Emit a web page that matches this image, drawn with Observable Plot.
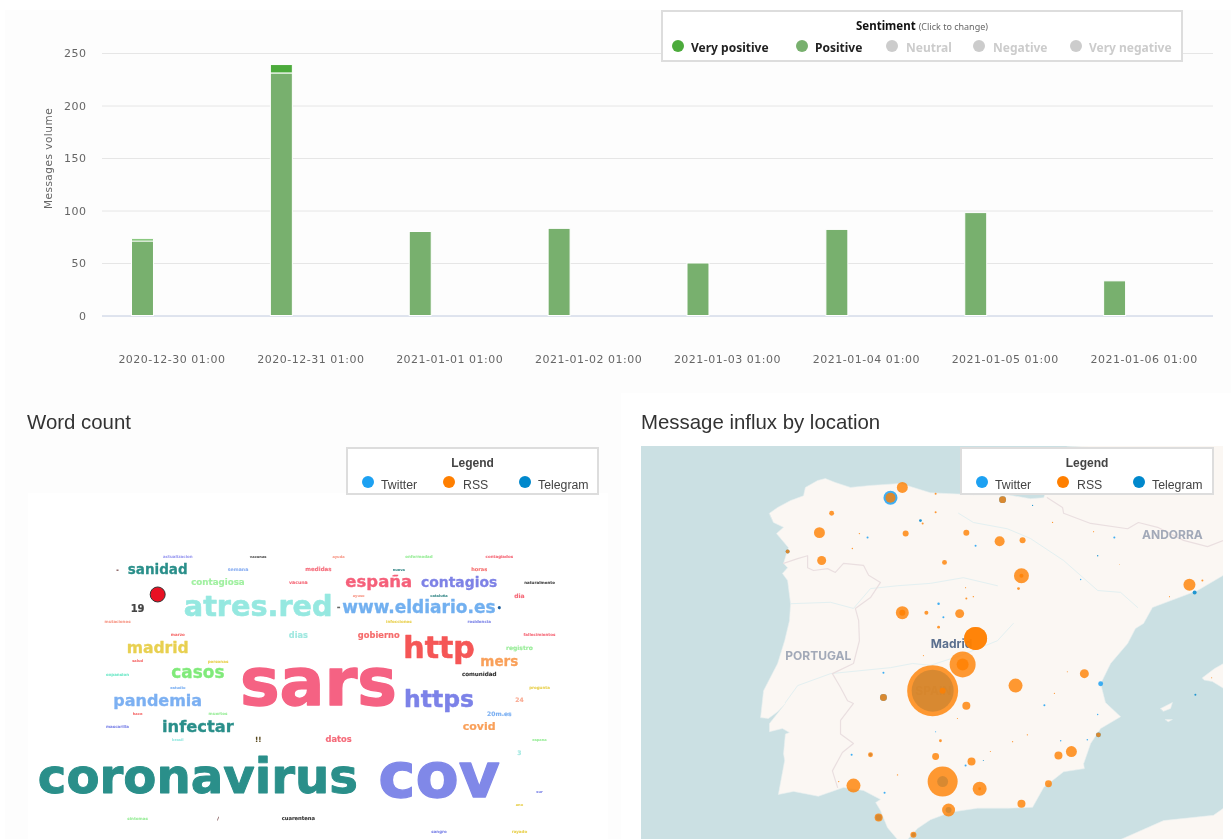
<!DOCTYPE html>
<html><head><meta charset="utf-8">
<script src="https://cdn.jsdelivr.net/npm/d3@7"></script>
<script src="https://cdn.jsdelivr.net/npm/@observablehq/plot@0.6"></script>
<style>
html,body{margin:0;padding:0;background:#fff;}
#page{position:relative;width:1231px;height:839px;overflow:hidden;background:#fff;filter:blur(.35px);}
.panel{position:absolute;background:#fdfdfd;}
.slot{position:absolute;}
.slot svg{display:block;}
h2{position:absolute;margin:0;font:400 20.4px "Liberation Sans",Arial,sans-serif;color:#333;line-height:24px;white-space:nowrap;}
.legend{position:absolute;box-sizing:border-box;background:#fff;border:2px solid #ddd;color:#444;white-space:nowrap;}
.legend span{position:absolute;line-height:14px;}
.legend i{position:absolute;width:12px;height:12px;border-radius:50%;}
</style></head><body>
<div id="page">
  <div class="panel" style="left:5px;top:10px;width:1226px;height:383px"></div>
  <div class="panel" style="left:5px;top:393px;width:616px;height:446px"></div>
  <div class="panel" style="left:28px;top:493px;width:580px;height:346px;background:#fff"></div>
  <div class="slot" id="bars" style="left:0;top:0"></div>
  <h2 style="left:27px;top:410px">Word count</h2>
  <h2 style="left:641px;top:410px">Message influx by location</h2>
  <div class="slot" id="cloud" style="left:28px;top:493px"></div>
  <div class="slot" id="map" style="left:641px;top:446px"></div>
  <div class="legend" id="sentimentLegend" style="left:661px;top:10px;width:522px;height:52px"></div>
  <div class="legend" id="cloudLegend" style="left:346px;top:447px;width:253px;height:48px"></div>
  <div class="legend" id="mapLegend" style="left:960px;top:447px;width:254px;height:48px"></div>
</div>
<script>
// ---------- Bar chart ----------
const dates = ["2020-12-30 01:00","2020-12-31 01:00","2021-01-01 01:00","2021-01-02 01:00","2021-01-03 01:00","2021-01-04 01:00","2021-01-05 01:00","2021-01-06 01:00"];
const positiveCounts = [71,231,80,83,50,82,98,33];
const veryPositiveCounts = [2,8,0,0,0,0,0,0];
const sentimentNames = ["Very positive","Positive","Neutral","Negative","Very negative"];
const sentimentColors = ["#4cab3c","#78b06e","#cccccc","#cccccc","#cccccc"];

// ---------- Word cloud (grid column, grid row, word count) ----------
const words  = ["coronavirus","cov","sars","http","https","atres.red","www.eldiario.es","españa","contagios","madrid","casos","pandemia","infectar","sanidad","contagiosa","19","gobierno","mers","covid","datos","dias","comunidad","registro","20m.es","24","3","horas","dia","medidas","semana","vacuna","cuarentena","-","•","-","!!","/","actualizacion","vacunas","ayuda","enfermedad","contagiados","nueva","naturalmente","ayuso","cataluña","infecciones","residencia","fallecimientos","mutaciones","marzo","salud","personas","expansion","estudio","hace","muertes","mascarilla","brasil","sintomas","pregunta","espana","sur","ano","sangre","rayado"];
const wordCols = [4,16,10,16,16,7,15,13,17,2,4,2,4,2,5,1,13,19,18,11,9,18,20,19,20,20,18,20,10,6,9,9,0,19,11,7,5,3,7,11,15,19,14,21,12,16,14,18,21,0,3,1,5,0,3,1,5,0,3,1,21,21,21,20,16,20];
const wordRows = [16.9,16.8,9.75,6.98,10.88,3.88,3.92,1.94,2,7,8.9,11,13,1,2,4,6,8,13,14,6,9,7,12,11,15,1,3,1,1,2,20,1,4,3.9,14,20,0,0,0,0,0,1,2,3,3,5,5,6,5,6,8,8,9,10,12,12,13,14,20,10,14,18,19,21,21];
const wordCounts = [482,630,666,300,235,287,170,165,139,156,169,160,163,135,87,100,83,135,110,83,82,56,60,60,60,60,50,60,55,47,47,52,60,80,90,70,45,40,36,36,40,40,36,40,36,36,40,40,40,40,40,36,40,40,36,36,40,40,36,40,40,36,36,36,40,40];
const wordColors = ["#2a8f8a","#8088e8","#f56283","#f55656","#7c82e8","#95e8e0","#72b0f0","#f5607a","#7e82e6","#e8d050","#80ea7a","#7cb0f2","#2a8f8a","#2a8f8a","#a0f0a0","#444","#f56b6b","#f9a05a","#f9a05a","#f56b7a","#a0e8e0","#333","#98ec98","#7cb0f2","#f9a890","#a0e8e0","#f56b6b","#f56b7a","#f56b7a","#8cb0f2","#f56b7a","#333","#633","#1a5c9c","#666","#5a4a20","#633","#9c9cf0","#555","#f79a8a","#98ec98","#f56b7a","#3a8a8a","#444","#f79a8a","#3a8a8a","#e8d050","#8088e8","#f56b7a","#f79a8a","#f56b6b","#f56b6b","#e8d050","#70e8c8","#7cb0f2","#f56b6b","#98ec98","#8088e8","#95e8e0","#98ec98","#e8d050","#98ec98","#8088e8","#e8d050","#8088e8","#e8d050"];
const cloudMarker = [[2,2.9]];

// ---------- Map: [longitude, latitude] ----------
const iberiaCoast = [[-9.23,43.08],[-9.01,43.20],[-8.66,43.34],[-8.31,43.44],[-8.26,43.61],[-7.93,43.75],[-7.72,43.79],[-7.45,43.71],[-7.04,43.61],[-6.50,43.65],[-5.69,43.69],[-4.88,43.50],[-3.72,43.46],[-2.80,43.46],[-2.18,43.38],[-1.82,43.40],[-1.64,43.75],[-1.20,44.43],[5.13,44.74],[5.13,42.10],[3.04,41.79],[2.34,41.47],[1.12,41.11],[0.88,40.77],[0.66,40.66],[0.45,40.34],[-0.01,39.91],[-0.28,39.47],[-0.15,39.06],[0.26,38.75],[-0.28,38.49],[-0.55,38.16],[-0.74,37.71],[-0.72,37.60],[-1.28,37.53],[-1.82,37.18],[-2.12,36.73],[-2.80,36.71],[-3.61,36.71],[-4.34,36.62],[-4.88,36.45],[-5.23,36.25],[-5.50,36.0],[-5.77,36.0],[-6.04,36.27],[-6.23,36.66],[-6.36,36.84],[-6.23,36.91],[-6.69,37.11],[-7.23,37.18],[-7.91,36.98],[-8.58,37.09],[-8.99,37.02],[-8.82,37.78],[-8.85,37.93],[-8.80,38.37],[-8.69,38.40],[-8.88,38.49],[-9.23,38.42],[-9.23,38.60],[-8.80,39.04],[-9.01,38.86],[-9.26,38.71],[-9.47,38.73],[-9.39,39.32],[-9.01,39.91],[-8.82,40.40],[-8.69,40.83],[-8.66,41.19],[-8.74,41.68],[-8.88,41.83],[-8.74,41.95],[-8.85,42.04],[-8.72,42.37],[-9.04,42.66],[-8.85,42.79],[-9.12,42.89],[-9.23,43.08]];
const africaCoast = [[0.26,36.0],[1.42,36.43],[2.77,36.55],[3.04,36.71],[5.13,36.89],[5.13,35.1],[0.26,35.1],[0.26,36.0]];
const mallorcaCoast = [[2.47,39.60],[2.80,39.80],[3.04,39.91],[4,39.9],[4,39.3],[3.04,39.37],[2.74,39.52],[2.52,39.55],[2.47,39.60]];
const ibizaCoast = [[1.34,38.93],[1.66,39.06],[1.61,38.93],[1.42,38.87],[1.34,38.93]];
const formenteraCoast = [[1.47,38.69],[1.66,38.69],[1.55,38.64],[1.47,38.69]];
const portugalBorder = [[-8.85,42.04],[-8.47,42.14],[-8.20,42.20],[-8.20,41.95],[-8.04,41.89],[-7.66,41.93],[-7.45,41.85],[-7.23,42.04],[-6.69,42.00],[-6.55,41.79],[-6.23,41.64],[-6.50,41.32],[-6.91,41.09],[-6.82,40.83],[-6.80,40.40],[-6.96,39.91],[-7.53,39.69],[-7.31,39.39],[-7.12,39.10],[-6.96,39.04],[-7.31,38.67],[-7.31,38.37],[-6.96,38.16],[-7.26,37.96],[-7.53,37.55],[-7.39,37.18]];
const franceBorder = [[-1.72,43.40],[-1.31,43.20],[-1.28,43.08],[-0.55,42.87],[0.45,42.76],[0.74,42.89],[1.26,42.79],[1.96,42.52],[2.61,42.39],[3.04,42.52]];
const ebroRiver = [[-4.12,43.08],[-3.72,42.89],[-2.80,42.76],[-2.18,42.56],[-1.28,42.10],[-0.36,41.47],[0.26,41.43],[0.72,41.11]];
const dueroRiver = [[-8.66,41.19],[-7.58,41.22],[-6.96,41.09],[-6.50,41.51],[-5.77,41.57],[-4.88,41.62],[-3.99,41.74],[-3.07,41.57]];
const tagusRiver = [[-8.80,39.06],[-8.47,39.43],[-7.58,39.69],[-5.96,39.82],[-5.36,39.91],[-4.88,39.87],[-4.07,40.08],[-3.07,40.40],[-2.64,40.77]];
const placeLabels = ["PORTUGAL","Madrid","SPAIN","ANDORRA"];
const placeLons = [-7.91,-4.31,-4.80,1.66];
const placeLats = [40.06,40.32,39.32,42.62];
const placeColors = ["#a2a9b8","#5b6f8e","#a98a6a","#a2a9b8"];
// [longitude, latitude, messages]
const twitterPlaces = [[-5.96,43.40,49],[-4.82,39.32,441],[-6.15,39.17,12],[-4.39,36.67,9],[-4.55,37.31,30],[-2.93,43.36,12],[-8.74,42.29,4],[-0.34,38.35,6],[-6.28,36.50,9],[-5.34,36.11,4],[-6.50,37.91,2],[-6.58,42.58,1],[-3.66,42.41,1],[-4.66,41.19,1.5],[-4.53,40.90,1],[0.09,42.58,1],[-0.82,41.70,.5],[-6.15,39.71,1],[-7.01,37.91,1],[-6.12,37.06,1],[-3.93,37.67,1],[-1.80,39.00,1],[-0.36,38.80,.5],[-0.64,38.24,.6],[-1.36,38.22,.5],[-4.74,38.42,.3],[-0.28,39.47,6]];
const telegramPlaces = [[2.26,41.43,4],[-5.15,42.93,2],[-0.36,42.20,.5],[-2.12,43.24,.4],[-3.45,37.78,.3],[2.28,39.23,1]];
const rssPlaces = [[-5.64,43.61,30],[-5.96,43.40,25],[-7.55,43.08,6],[-7.88,42.68,30],[-5.55,42.66,9],[-5.09,42.87,1],[-6.80,42.66,.5],[-6.99,42.35,.5],[-8.74,42.29,4],[-7.82,42.10,20],[-5.64,41.00,42],[-5.64,41.00,9],[-4.99,41.00,4],[-2.93,43.36,12],[-4.74,43.48,1],[-4.74,43.10,1],[-3.91,42.68,9],[-3.01,42.50,25],[-2.39,42.52,9],[-4.50,42.06,6],[-2.42,41.78,56],[-2.42,41.78,4],[-2.50,41.51,2],[-4.09,40.98,20],[-3.91,41.30,1],[-3.72,41.34,.5],[-3.93,41.53,.3],[2.12,41.59,36],[2.47,41.68,1],[-1.58,42.89,.4],[-0.47,42.70,.3],[1.58,41.34,.3],[0.23,42.02,.2],[-3.66,40.45,132],[-3.66,40.45,132],[-4.66,40.69,2],[-4.01,39.89,169],[-4.01,39.89,36],[-4.82,39.32,650],[-4.55,39.32,9],[-3.91,38.99,16],[-2.58,39.43,49],[-0.72,39.69,20],[-0.34,38.35,6],[-1.07,37.98,30],[-1.42,37.89,16],[-2.42,36.81,16],[-1.69,37.26,12],[-3.77,37.76,16],[-4.74,37.87,12],[-4.55,37.31,225],[-3.55,37.15,49],[-3.55,37.15,2],[-4.39,36.67,42],[-4.61,38.22,2],[-2.26,38.35,.5],[-2.66,38.20,.4],[-3.26,37.98,.3],[-1.53,39.26,.3],[-1.18,39.73,.3],[-4.15,38.71,.3],[2.72,39.60,.3],[-6.15,39.17,12],[-6.50,37.91,6],[-6.96,37.22,49],[-7.36,37.31,.5],[-5.77,37.46,.5],[-6.28,36.50,16],[-5.34,36.11,9],[-5.07,40.08,.3]];
const sourceNames = ["Twitter","RSS","Telegram"];
const sourceColors = ["#1da1f2","#ff7f00","#0088cc"];

// ---------- Bars ----------
const barRows = [
  ...dates.map((d,i)=>({date:d,count:positiveCounts[i],sentiment:"Positive"})),
  ...dates.map((d,i)=>({date:d,count:veryPositiveCounts[i],sentiment:"Very positive"}))
];
document.getElementById("bars").append(Plot.plot({
  width:1231,height:392,marginTop:53,marginBottom:76.5,marginLeft:102,marginRight:18,
  style:{background:"transparent",fontFamily:"'DejaVu Sans',sans-serif",fontSize:"11px",color:"#666",letterSpacing:".5px"},
  x:{type:"band",domain:dates,padding:0,round:false,label:null},
  y:{domain:[0,250],label:null},
  color:{domain:sentimentNames,range:sentimentColors},
  marks:[
    Plot.gridY({ticks:d3.range(0,251,50),stroke:"#e6e6e6",strokeOpacity:1}),
    Plot.ruleY([0],{stroke:"#ccd6eb"}),
    Plot.barY(barRows,{x:"date",y:"count",fill:"sentiment",order:["Positive","Very positive"],insetLeft:29.5,insetRight:87.4,stroke:"#fff",strokeWidth:1}),
    Plot.axisY({ticks:d3.range(0,251,50),tickSize:0,tickPadding:16,label:null,fill:"#666"}),
    Plot.axisX({tickSize:0,tickPadding:39,label:null,fill:"#666"}),
    Plot.text(["Messages volume"],{frameAnchor:"left",y:()=>150,dx:-54,rotate:-90,textAnchor:"middle",fontSize:10.5,fill:"#666"})
  ]
}));

// ---------- Word cloud ----------
const wordTable = words.map((w,i)=>({word:w,col:wordCols[i],row:wordRows[i],count:wordCounts[i],color:wordColors[i]}));
document.getElementById("cloud").append(Plot.plot({
  width:580,height:346,margin:0,
  style:{background:"transparent"},
  x:{domain:[0,21],range:[89,511],axis:null},
  y:{domain:[0,21],range:[63,338],axis:null},
  marks:[
    Plot.text(wordTable,{x:"col",y:"row",text:"word",fill:"color",stroke:"color",strokeWidth:d=>d.count/500,fontSize:d=>d.count/10,fontWeight:"bold",fontFamily:"'DejaVu Sans',Verdana,sans-serif",textAnchor:"middle",lineAnchor:"middle"}),
    Plot.dot(cloudMarker,{x:d=>d[0],y:d=>d[1],r:7.5,fill:"#e81123",stroke:"#333",strokeWidth:1})
  ]
}));

// ---------- Map ----------
const merc = lat => Math.log(Math.tan(Math.PI/4 + lat*Math.PI/360));
const spainView = d3.geoTransform({point(lon,lat){ this.stream.point(469.5+37*lon, 1763.9-2033.1*merc(lat)); }});
const poly = c => ({type:"Polygon",coordinates:[c]});
const line = c => ({type:"LineString",coordinates:c});
const sourceRows = (places,s)=>places.map(p=>({lon:p[0],lat:p[1],n:p[2],source:s}));
const labelRows = placeLabels.map((t,i)=>({t,lon:placeLons[i],lat:placeLats[i],c:placeColors[i]}));
document.getElementById("map").append(Plot.plot({
  width:582,height:393,margin:0,
  projection:spainView,
  style:{background:"#cbe0e3"},
  r:{type:"sqrt",domain:[0,650],range:[0,25.5]},
  color:{domain:sourceNames,range:sourceColors},
  marks:[
    [iberiaCoast,africaCoast,mallorcaCoast,ibizaCoast,formenteraCoast].map(c=>Plot.geo(poly(c),{fill:"#fbf7f3",stroke:"#e9f0f0",strokeWidth:.6})),
    [ebroRiver,dueroRiver,tagusRiver].map(c=>Plot.geo(line(c),{fill:"none",stroke:"#e3f0f1",strokeWidth:1})),
    [portugalBorder,franceBorder].map(c=>Plot.geo(line(c),{fill:"none",stroke:"#eadfe0",strokeWidth:1.2})),
    Plot.text(labelRows,{x:"lon",y:"lat",text:"t",fill:"c",fontSize:12,fontWeight:"bold",fontFamily:"Inter,'Open Sans',sans-serif"}),
    Plot.dot(sourceRows(twitterPlaces,"Twitter"),{x:"lon",y:"lat",r:"n",fill:"source",fillOpacity:.85,stroke:null}),
    Plot.dot(sourceRows(telegramPlaces,"Telegram"),{x:"lon",y:"lat",r:"n",fill:"source",fillOpacity:.85,stroke:null}),
    Plot.dot(sourceRows(rssPlaces,"RSS"),{x:"lon",y:"lat",r:"n",fill:"source",fillOpacity:.8,stroke:null})
  ]
}));

// ---------- Legends ----------
function addItem(box,name,color,dotX,textX,dotY,textY,style){
  const dot=document.createElement("i");
  dot.style.cssText=`left:${dotX}px;top:${dotY}px;background:${color}`;
  const lab=document.createElement("span");
  lab.textContent=name;
  lab.style.cssText=`left:${textX}px;top:${textY}px;${style}`;
  box.append(dot,lab);
}
function addTitle(box,html,style){
  const t=document.createElement("span");
  t.innerHTML=html;
  t.style.cssText=`left:0;right:0;text-align:center;${style}`;
  box.append(t);
}
const sl=document.getElementById("sentimentLegend");
addTitle(sl,'Sentiment <small style="font-weight:400;font-size:9px;color:#666">(Click to change)</small>','top:6px;font:bold 11.5px "Noto Sans",sans-serif;color:#111;');
const sdots=[9,133,223,310,407], stext=[28,152,243,330,426];
sentimentNames.forEach((n,i)=>addItem(sl,n,sentimentColors[i],sdots[i],stext[i],28,27,`font:bold 12px "Noto Sans",sans-serif;color:${i<2?"#222":"#ccc"}`));
for(const id of ["cloudLegend","mapLegend"]){
  const b=document.getElementById(id);
  addTitle(b,"Legend",'top:7px;font:bold 12px "Liberation Sans",sans-serif;color:#444;');
  const dx=[14,95,171], tx=[33,115,190];
  sourceNames.forEach((n,i)=>addItem(b,n,sourceColors[i],dx[i],tx[i],27,28.5,'font:12.3px "Liberation Sans",sans-serif;color:#444'));
}
</script>
</body></html>
